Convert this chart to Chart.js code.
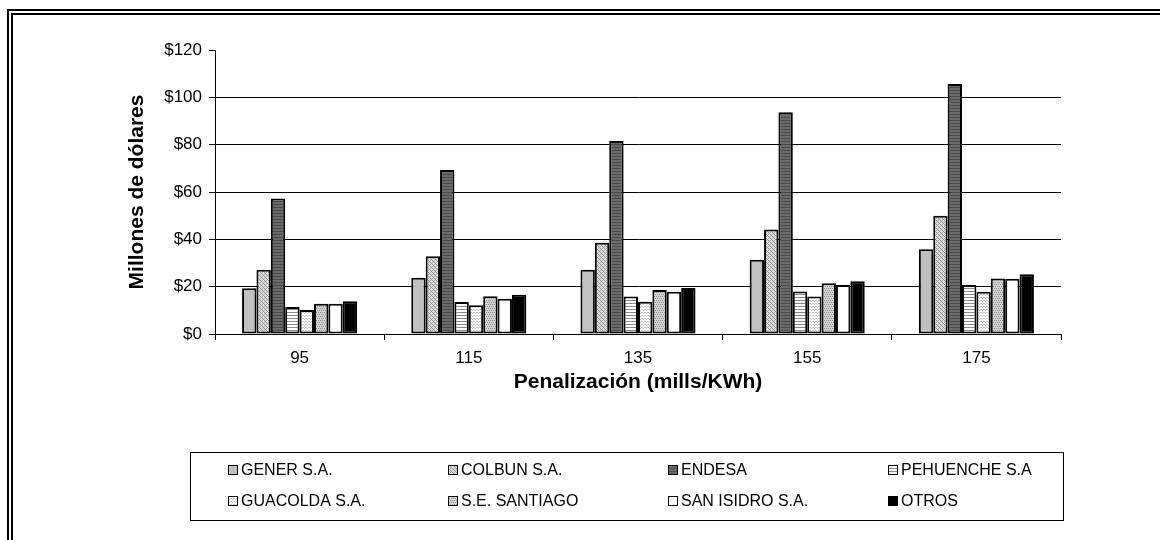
<!DOCTYPE html>
<html>
<head>
<meta charset="utf-8">
<script src="https://cdn.jsdelivr.net/npm/chart.js@4/dist/chart.umd.min.js"></script>
<style>
  html, body { margin: 0; padding: 0; background: #fff; }
  #wrap { position: relative; width: 1160px; height: 540px; overflow: hidden; }
  #frame { position: absolute; left: 7px; top: 9px; width: 1200px; height: 600px;
           border-top: 6px double #000; border-left: 6px double #000; }
  canvas { position: absolute; left: 0; top: 0; }
</style>
</head>
<body>
<div id="wrap">
  <div id="frame"></div>
  <canvas id="chart" width="1160" height="540"></canvas>
</div>
<script>
// data (millions of dollars)
const categories = ["95", "115", "135", "155", "175"];
const gener     = [19.3, 23.8, 27.2, 31.4, 35.8];
const colbun    = [27.2, 32.8, 38.6, 44.2, 50.0];
const endesa    = [57.3, 69.3, 81.5, 93.7, 105.6];
const pehuenche = [11.4, 13.5, 15.8, 18.0, 20.7];
const guacolda  = [10.1, 12.1, 13.6, 15.8, 17.9];
const santiago  = [12.8, 15.9, 18.6, 21.4, 23.5];
const sanIsidro = [12.8, 14.9, 17.9, 20.7, 23.3];
const otros     = [13.8, 16.6, 19.4, 22.3, 25.2];
const seriesNames = ["GENER S.A.", "COLBUN S.A.", "ENDESA", "PEHUENCHE S.A",
                     "GUACOLDA S.A.", "S.E. SANTIAGO", "SAN ISIDRO S.A.", "OTROS"];

const FONT = "'Liberation Sans', Arial, sans-serif";

// small pattern tiles, Excel-ish fills
function makePattern(w, h, base, draw){
  const c = document.createElement("canvas");
  c.width = w; c.height = h;
  const g = c.getContext("2d");
  g.fillStyle = base;
  g.fillRect(0, 0, w, h);
  if (draw) draw(g);
  return document.getElementById("chart").getContext("2d").createPattern(c, "repeat");
}
const fills = [
  "#c0c0c0",
  makePattern(4, 4, "#dcdcdc", g => { g.fillStyle = "#909090";
    g.fillRect(0,0,1,1); g.fillRect(1,1,1,1); g.fillRect(2,2,1,1); g.fillRect(3,3,1,1);
    g.fillStyle = "#b0b0b0"; g.fillRect(2,0,1,1); g.fillRect(0,2,1,1); }),
  makePattern(2, 3, "#6a6a6a", g => { g.fillStyle = "#4a4a4a"; g.fillRect(0,0,2,1); }),
  makePattern(3, 3, "#ffffff", g => { g.fillStyle = "#8a8a8a"; g.fillRect(0,0,3,1); }),
  makePattern(3, 3, "#ffffff", g => { g.fillStyle = "#c4c4c4";
    g.fillRect(0,0,1,1); g.fillRect(1,1,1,1); g.fillRect(2,0,1,1); }),
  makePattern(4, 4, "#d4d4d4", g => { g.fillStyle = "#8c8c8c";
    g.fillRect(0,0,1,1); g.fillRect(2,0,1,1); g.fillRect(1,2,1,1); g.fillRect(3,2,1,1); }),
  "#ffffff",
  "#000000"
];
const values = [gener, colbun, endesa, pehuenche, guacolda, santiago, sanIsidro, otros];

// legend drawn as a boxed 4x2 grid below the axis title
const gridLegend = {
  id: "gridLegend",
  afterDraw(chart){
    const ctx = chart.ctx;
    ctx.save();
    ctx.strokeStyle = "#000";
    ctx.lineWidth = 1;
    ctx.strokeRect(190.5, 452.5, 873, 68);
    const colX = [228, 448, 668, 888];
    const rowY = [470, 501];
    ctx.font = "16px " + FONT;
    ctx.textBaseline = "middle";
    chart.data.datasets.forEach((ds, i) => {
      const x = colX[i % 4], y = rowY[Math.floor(i / 4)];
      ctx.fillStyle = ds.backgroundColor;
      ctx.fillRect(x, y - 5, 10, 10);
      ctx.strokeStyle = "#000";
      ctx.strokeRect(x + 0.5, y - 4.5, 9, 9);
      ctx.fillStyle = "#000";
      ctx.fillText(ds.label, x + 13, y + 1);
    });
    ctx.restore();
  }
};

new Chart(document.getElementById("chart"), {
  type: "bar",
  data: {
    labels: categories,
    datasets: values.map((v, i) => ({
      label: seriesNames[i],
      data: v,
      backgroundColor: fills[i],
      borderColor: "#000",
      borderWidth: 2,
      borderSkipped: false,
      categoryPercentage: 0.68,
      barPercentage: 1.0
    }))
  },
  options: {
    responsive: false,
    animation: false,
    layout: { padding: { left: 121, right: 99, top: 50, bottom: 142 } },
    plugins: { legend: { display: false }, tooltip: { enabled: false } },
    scales: {
      x: {
        afterFit: s => { s.height = 64; },
        grid: { drawOnChartArea: false, drawTicks: true, tickLength: 6, color: "#000" },
        border: { color: "#000", width: 1 },
        ticks: { color: "#000", font: { family: FONT, size: 17 }, padding: 8 },
        title: { display: true, text: "Penalización (mills/KWh)", color: "#000",
                 font: { family: FONT, size: 21, weight: "bold" }, padding: { top: 2, bottom: 3 } }
      },
      y: {
        min: 0, max: 120,
        afterFit: s => { s.width = 94; },
        ticks: { stepSize: 20, color: "#000", font: { family: FONT, size: 17 }, padding: 7,
                 callback: v => "$" + v },
        grid: { color: c => (c.tick && c.tick.value === 120) ? "rgba(0,0,0,0)" : "#000",
                tickColor: "#000", tickLength: 6, lineWidth: 1 },
        border: { color: "#000", width: 1 },
        title: { display: true, text: "Millones de dólares", color: "#000",
                 font: { family: FONT, size: 21, weight: "bold" }, padding: { top: 4, bottom: 4 } }
      }
    }
  },
  plugins: [gridLegend]
});
</script>
</body>
</html>
